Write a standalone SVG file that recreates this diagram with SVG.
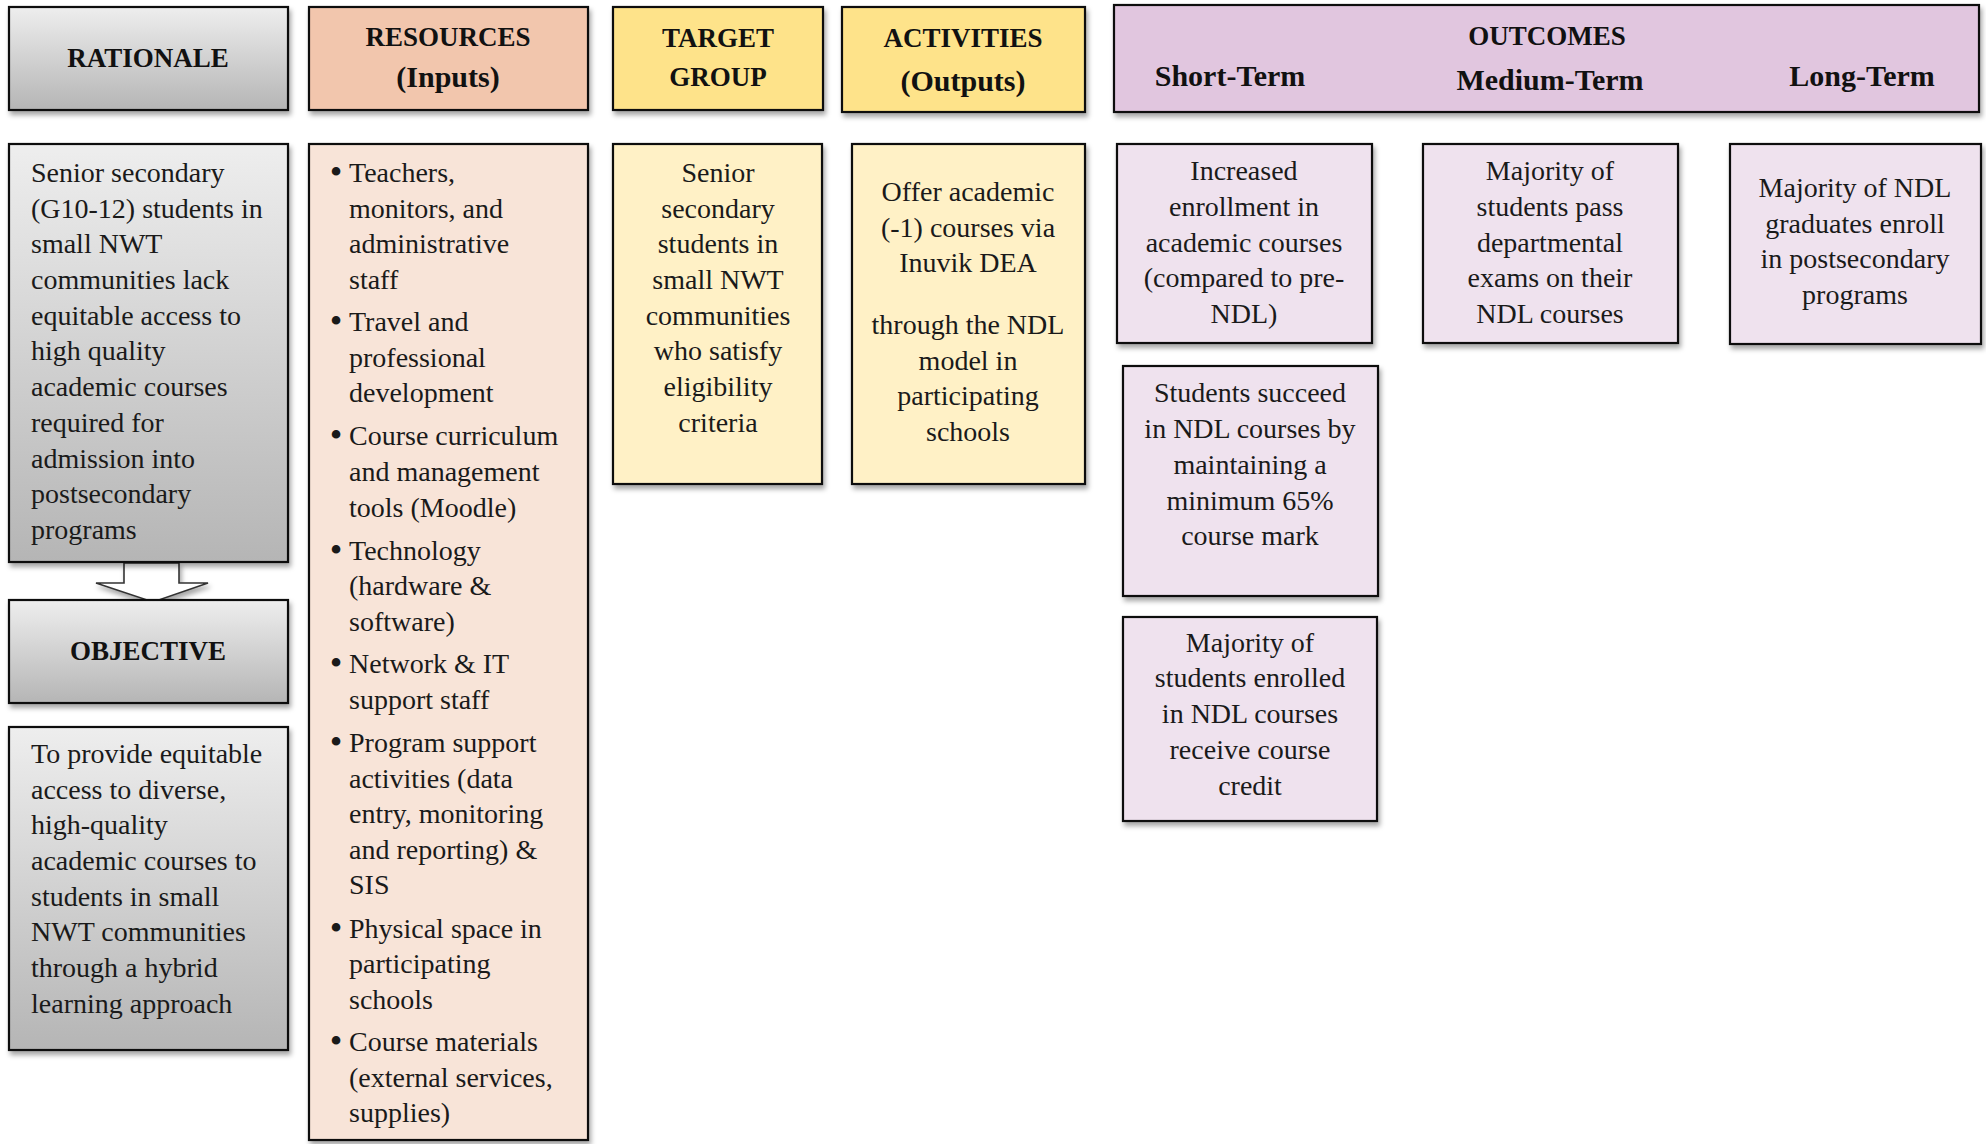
<svg xmlns="http://www.w3.org/2000/svg" width="1986" height="1144" viewBox="0 0 1986 1144">
<defs>
<linearGradient id="gGray" x1="0" y1="0" x2="0" y2="1">
<stop offset="0" stop-color="#eeeeee"/>
<stop offset="1" stop-color="#b5b5b5"/>
</linearGradient>
<filter id="sh" x="-10%" y="-10%" width="130%" height="130%">
<feDropShadow dx="2" dy="4" stdDeviation="2.5" flood-color="#000" flood-opacity="0.35"/>
</filter>
<style>
.box{stroke:#111;stroke-width:2.2;filter:url(#sh)}
.gray{fill:url(#gGray)}
.salH{fill:#f2c6ad}
.salB{fill:#f8e4d8}
.yelH{fill:#fee38a}
.yelB{fill:#fff1c6}
.purH{fill:#e1c6df}
.purB{fill:#efe2ee}
text{font-family:"Liberation Serif","Times New Roman",serif;fill:#1a1a1a}
.h{font-weight:bold;font-size:27px;text-anchor:middle;fill:#111}
.hm{font-weight:bold;font-size:30px;text-anchor:middle;fill:#111}
.b{font-size:28px}
.c{text-anchor:middle}
.bul{font-size:36px;text-anchor:middle}
</style>
</defs>
<rect width="1986" height="1144" fill="#fff"/>

<g id="connectors">
<path id="arrow-rationale-objective" d="M124,563 L179,563 L179,583 L208,583 L153,602 L96,583 L124,583 Z" fill="#fff" stroke="#333" stroke-width="1.6" filter="url(#sh)"/>
</g>

<g id="rationale-header">
<rect class="box gray" x="9" y="7" width="279" height="103"/>
<text class="h" x="148" y="67">RATIONALE</text>
</g>

<g id="rationale">
<rect class="box gray" x="9" y="144" width="279" height="418"/>
<text class="b"><tspan x="31" y="182">Senior secondary</tspan><tspan x="31" y="218">(G10-12) students in</tspan><tspan x="31" y="253">small NWT</tspan><tspan x="31" y="289">communities lack</tspan><tspan x="31" y="325">equitable access to</tspan><tspan x="31" y="360">high quality</tspan><tspan x="31" y="396">academic courses</tspan><tspan x="31" y="432">required for</tspan><tspan x="31" y="468">admission into</tspan><tspan x="31" y="503">postsecondary</tspan><tspan x="31" y="539">programs</tspan></text>
</g>

<g id="objective-header">
<rect class="box gray" x="9" y="600" width="279" height="103"/>
<text class="h" x="148" y="660">OBJECTIVE</text>
</g>

<g id="objective">
<rect class="box gray" x="9" y="727" width="279" height="323"/>
<text class="b"><tspan x="31" y="763">To provide equitable</tspan><tspan x="31" y="799">access to diverse,</tspan><tspan x="31" y="834">high-quality</tspan><tspan x="31" y="870">academic courses to</tspan><tspan x="31" y="906">students in small</tspan><tspan x="31" y="941">NWT communities</tspan><tspan x="31" y="977">through a hybrid</tspan><tspan x="31" y="1013">learning approach</tspan></text>
</g>

<g id="resources-header">
<rect class="box salH" x="309" y="7" width="279" height="103"/>
<text class="h" x="448" y="46">RESOURCES</text>
<text class="hm" x="448" y="87">(Inputs)</text>
</g>

<g id="resources">
<rect class="box salB" x="309" y="144" width="279" height="996"/>
<text class="bul"><tspan x="336" y="184">•</tspan><tspan x="336" y="333">•</tspan><tspan x="336" y="447">•</tspan><tspan x="336" y="562">•</tspan><tspan x="336" y="675">•</tspan><tspan x="336" y="754">•</tspan><tspan x="336" y="940">•</tspan><tspan x="336" y="1053">•</tspan></text>
<text class="b"><tspan x="349" y="182">Teachers,</tspan><tspan x="349" y="218">monitors, and</tspan><tspan x="349" y="253">administrative</tspan><tspan x="349" y="289">staff</tspan><tspan x="349" y="331">Travel and</tspan><tspan x="349" y="367">professional</tspan><tspan x="349" y="402">development</tspan><tspan x="349" y="445">Course curriculum</tspan><tspan x="349" y="481">and management</tspan><tspan x="349" y="517">tools (Moodle)</tspan><tspan x="349" y="560">Technology</tspan><tspan x="349" y="595">(hardware &amp;</tspan><tspan x="349" y="631">software)</tspan><tspan x="349" y="673">Network &amp; IT</tspan><tspan x="349" y="709">support staff</tspan><tspan x="349" y="752">Program support</tspan><tspan x="349" y="788">activities (data</tspan><tspan x="349" y="823">entry, monitoring</tspan><tspan x="349" y="859">and reporting) &amp;</tspan><tspan x="349" y="894">SIS</tspan><tspan x="349" y="938">Physical space in</tspan><tspan x="349" y="973">participating</tspan><tspan x="349" y="1009">schools</tspan><tspan x="349" y="1051">Course materials</tspan><tspan x="349" y="1087">(external services,</tspan><tspan x="349" y="1122">supplies)</tspan></text>
</g>

<g id="target-header">
<rect class="box yelH" x="613" y="7" width="210" height="103"/>
<text class="h" x="718" y="47">TARGET</text>
<text class="h" x="718" y="86">GROUP</text>
</g>

<g id="target">
<rect class="box yelB" x="613" y="144" width="209" height="340"/>
<text class="b c"><tspan x="718" y="182">Senior</tspan><tspan x="718" y="218">secondary</tspan><tspan x="718" y="253">students in</tspan><tspan x="718" y="289">small NWT</tspan><tspan x="718" y="325">communities</tspan><tspan x="718" y="360">who satisfy</tspan><tspan x="718" y="396">eligibility</tspan><tspan x="718" y="432">criteria</tspan></text>
</g>

<g id="activities-header">
<rect class="box yelH" x="842" y="7" width="243" height="105"/>
<text class="h" x="963" y="47">ACTIVITIES</text>
<text class="hm" x="963" y="91">(Outputs)</text>
</g>

<g id="activities">
<rect class="box yelB" x="852" y="144" width="233" height="340"/>
<text class="b c"><tspan x="968" y="201">Offer academic</tspan><tspan x="968" y="237">(-1) courses via</tspan><tspan x="968" y="272">Inuvik DEA</tspan><tspan x="968" y="334">through the NDL</tspan><tspan x="968" y="370">model in</tspan><tspan x="968" y="405">participating</tspan><tspan x="968" y="441">schools</tspan></text>
</g>

<g id="outcomes-header">
<rect class="box purH" x="1114" y="5" width="865" height="107"/>
<text class="h" x="1547" y="45">OUTCOMES</text>
<text class="hm" x="1230" y="86">Short-Term</text>
<text class="hm" x="1550" y="90">Medium-Term</text>
<text class="hm" x="1862" y="86">Long-Term</text>
</g>

<g id="short-term-1">
<rect class="box purB" x="1117" y="144" width="255" height="199"/>
<text class="b c"><tspan x="1244" y="180">Increased</tspan><tspan x="1244" y="216">enrollment in</tspan><tspan x="1244" y="252">academic courses</tspan><tspan x="1244" y="287">(compared to pre-</tspan><tspan x="1244" y="323">NDL)</tspan></text>
</g>

<g id="medium-term-1">
<rect class="box purB" x="1423" y="144" width="255" height="199"/>
<text class="b c"><tspan x="1550" y="180">Majority of</tspan><tspan x="1550" y="216">students pass</tspan><tspan x="1550" y="252">departmental</tspan><tspan x="1550" y="287">exams on their</tspan><tspan x="1550" y="323">NDL courses</tspan></text>
</g>

<g id="long-term-1">
<rect class="box purB" x="1730" y="144" width="251" height="200"/>
<text class="b c"><tspan x="1855" y="197">Majority of NDL</tspan><tspan x="1855" y="233">graduates enroll</tspan><tspan x="1855" y="268">in postsecondary</tspan><tspan x="1855" y="304">programs</tspan></text>
</g>

<g id="short-term-2">
<rect class="box purB" x="1123" y="366" width="255" height="230"/>
<text class="b c"><tspan x="1250" y="402">Students succeed</tspan><tspan x="1250" y="438">in NDL courses by</tspan><tspan x="1250" y="474">maintaining a</tspan><tspan x="1250" y="510">minimum 65%</tspan><tspan x="1250" y="545">course mark</tspan></text>
</g>

<g id="short-term-3">
<rect class="box purB" x="1123" y="617" width="254" height="204"/>
<text class="b c"><tspan x="1250" y="652">Majority of</tspan><tspan x="1250" y="687">students enrolled</tspan><tspan x="1250" y="723">in NDL courses</tspan><tspan x="1250" y="759">receive course</tspan><tspan x="1250" y="795">credit</tspan></text>
</g>
</svg>
